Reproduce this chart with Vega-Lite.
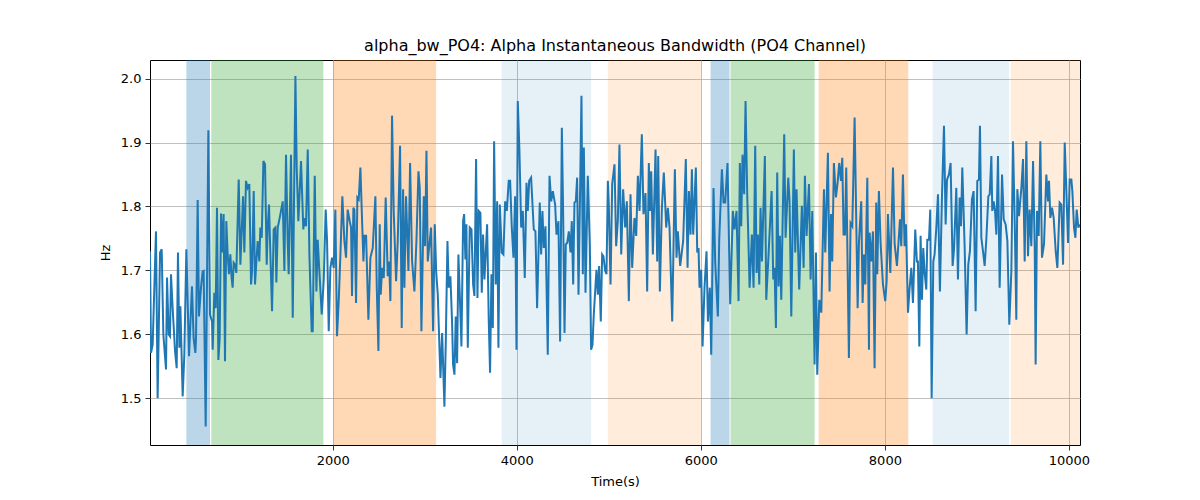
{
  "$schema": "https://vega.github.io/schema/vega-lite/v6.json",
  "autosize": "none",
  "width": 930,
  "height": 385,
  "padding": {"left": 150, "top": 60, "right": 120, "bottom": 55},
  "title": {
    "text": "alpha_bw_PO4: Alpha Instantaneous Bandwidth (PO4 Channel)",
    "font": "DejaVu Sans",
    "fontSize": 16,
    "fontWeight": "normal",
    "color": "black",
    "offset": 6
  },
  "datasets": {
    "bands": [
      {"start": 410, "end": 667, "band": "C0"},
      {"start": 681, "end": 1899, "band": "C2"},
      {"start": 2004, "end": 3124, "band": "C1"},
      {"start": 3837, "end": 4808, "band": "C0 light"},
      {"start": 4990, "end": 6004, "band": "C1 light"},
      {"start": 6106, "end": 6312, "band": "C0"},
      {"start": 6323, "end": 7236, "band": "C2"},
      {"start": 7280, "end": 8254, "band": "C1"},
      {"start": 8519, "end": 9349, "band": "C0 light"},
      {"start": 9367, "end": 10120, "band": "C1 light"}
    ],
    "signal": [
      {"t": 15, "hz": 1.730}, {"t": 26, "hz": 1.571}, {"t": 44, "hz": 1.584}, {"t": 80, "hz": 1.761},
      {"t": 98, "hz": 1.500}, {"t": 124, "hz": 1.728}, {"t": 142, "hz": 1.733}, {"t": 160, "hz": 1.600},
      {"t": 189, "hz": 1.545}, {"t": 200, "hz": 1.689}, {"t": 218, "hz": 1.600}, {"t": 232, "hz": 1.597},
      {"t": 243, "hz": 1.694}, {"t": 261, "hz": 1.641}, {"t": 287, "hz": 1.574}, {"t": 305, "hz": 1.547},
      {"t": 319, "hz": 1.728}, {"t": 334, "hz": 1.579}, {"t": 345, "hz": 1.644}, {"t": 370, "hz": 1.503},
      {"t": 388, "hz": 1.568}, {"t": 410, "hz": 1.733}, {"t": 439, "hz": 1.566}, {"t": 471, "hz": 1.675},
      {"t": 489, "hz": 1.594}, {"t": 508, "hz": 1.571}, {"t": 515, "hz": 1.594}, {"t": 533, "hz": 1.810},
      {"t": 547, "hz": 1.628}, {"t": 569, "hz": 1.673}, {"t": 587, "hz": 1.698}, {"t": 598, "hz": 1.699},
      {"t": 620, "hz": 1.456}, {"t": 649, "hz": 1.919}, {"t": 667, "hz": 1.631}, {"t": 689, "hz": 1.620},
      {"t": 696, "hz": 1.576}, {"t": 714, "hz": 1.665}, {"t": 729, "hz": 1.641}, {"t": 743, "hz": 1.798},
      {"t": 758, "hz": 1.560}, {"t": 772, "hz": 1.594}, {"t": 787, "hz": 1.789}, {"t": 801, "hz": 1.728},
      {"t": 815, "hz": 1.788}, {"t": 830, "hz": 1.558}, {"t": 844, "hz": 1.777}, {"t": 859, "hz": 1.725},
      {"t": 873, "hz": 1.694}, {"t": 888, "hz": 1.725}, {"t": 902, "hz": 1.688}, {"t": 913, "hz": 1.673},
      {"t": 924, "hz": 1.712}, {"t": 939, "hz": 1.709}, {"t": 953, "hz": 1.696}, {"t": 979, "hz": 1.842},
      {"t": 997, "hz": 1.709}, {"t": 1026, "hz": 1.816}, {"t": 1040, "hz": 1.728}, {"t": 1058, "hz": 1.840},
      {"t": 1076, "hz": 1.829}, {"t": 1094, "hz": 1.835}, {"t": 1113, "hz": 1.678}, {"t": 1124, "hz": 1.699},
      {"t": 1142, "hz": 1.824}, {"t": 1156, "hz": 1.678}, {"t": 1171, "hz": 1.714}, {"t": 1185, "hz": 1.746},
      {"t": 1203, "hz": 1.714}, {"t": 1214, "hz": 1.767}, {"t": 1229, "hz": 1.751}, {"t": 1247, "hz": 1.871},
      {"t": 1265, "hz": 1.866}, {"t": 1283, "hz": 1.709}, {"t": 1294, "hz": 1.767}, {"t": 1308, "hz": 1.803},
      {"t": 1323, "hz": 1.725}, {"t": 1341, "hz": 1.636}, {"t": 1359, "hz": 1.764}, {"t": 1377, "hz": 1.767},
      {"t": 1388, "hz": 1.681}, {"t": 1403, "hz": 1.767}, {"t": 1432, "hz": 1.788}, {"t": 1457, "hz": 1.808},
      {"t": 1475, "hz": 1.699}, {"t": 1493, "hz": 1.881}, {"t": 1511, "hz": 1.746}, {"t": 1522, "hz": 1.694},
      {"t": 1547, "hz": 1.881}, {"t": 1566, "hz": 1.626}, {"t": 1595, "hz": 2.004}, {"t": 1609, "hz": 1.861},
      {"t": 1627, "hz": 1.777}, {"t": 1656, "hz": 1.871}, {"t": 1681, "hz": 1.764}, {"t": 1692, "hz": 1.782},
      {"t": 1710, "hz": 1.769}, {"t": 1729, "hz": 1.889}, {"t": 1747, "hz": 1.725}, {"t": 1772, "hz": 1.605},
      {"t": 1783, "hz": 1.605}, {"t": 1805, "hz": 1.848}, {"t": 1823, "hz": 1.667}, {"t": 1837, "hz": 1.748},
      {"t": 1855, "hz": 1.699}, {"t": 1881, "hz": 1.631}, {"t": 1903, "hz": 1.686}, {"t": 1924, "hz": 1.795},
      {"t": 1939, "hz": 1.746}, {"t": 1957, "hz": 1.605}, {"t": 1975, "hz": 1.704}, {"t": 1993, "hz": 1.720},
      {"t": 2011, "hz": 1.704}, {"t": 2029, "hz": 1.795}, {"t": 2047, "hz": 1.597}, {"t": 2066, "hz": 1.654},
      {"t": 2084, "hz": 1.725}, {"t": 2105, "hz": 1.816}, {"t": 2127, "hz": 1.746}, {"t": 2145, "hz": 1.720},
      {"t": 2163, "hz": 1.795}, {"t": 2185, "hz": 1.777}, {"t": 2200, "hz": 1.767}, {"t": 2210, "hz": 1.660},
      {"t": 2225, "hz": 1.798}, {"t": 2236, "hz": 1.795}, {"t": 2254, "hz": 1.649}, {"t": 2268, "hz": 1.814},
      {"t": 2283, "hz": 1.811}, {"t": 2301, "hz": 1.861}, {"t": 2316, "hz": 1.793}, {"t": 2334, "hz": 1.714},
      {"t": 2345, "hz": 1.754}, {"t": 2363, "hz": 1.754}, {"t": 2388, "hz": 1.623}, {"t": 2410, "hz": 1.720},
      {"t": 2435, "hz": 1.735}, {"t": 2464, "hz": 1.816}, {"t": 2479, "hz": 1.673}, {"t": 2497, "hz": 1.574},
      {"t": 2511, "hz": 1.772}, {"t": 2522, "hz": 1.662}, {"t": 2537, "hz": 1.704}, {"t": 2555, "hz": 1.688},
      {"t": 2576, "hz": 1.814}, {"t": 2598, "hz": 1.691}, {"t": 2613, "hz": 1.714}, {"t": 2627, "hz": 1.652},
      {"t": 2645, "hz": 1.942}, {"t": 2663, "hz": 1.793}, {"t": 2689, "hz": 1.683}, {"t": 2707, "hz": 1.746},
      {"t": 2732, "hz": 1.895}, {"t": 2750, "hz": 1.610}, {"t": 2765, "hz": 1.827}, {"t": 2779, "hz": 1.673},
      {"t": 2797, "hz": 1.816}, {"t": 2823, "hz": 1.699}, {"t": 2841, "hz": 1.868}, {"t": 2863, "hz": 1.714},
      {"t": 2888, "hz": 1.667}, {"t": 2910, "hz": 1.746}, {"t": 2932, "hz": 1.855}, {"t": 2946, "hz": 1.829},
      {"t": 2964, "hz": 1.605}, {"t": 2990, "hz": 1.816}, {"t": 3004, "hz": 1.738}, {"t": 3019, "hz": 1.887},
      {"t": 3033, "hz": 1.714}, {"t": 3055, "hz": 1.746}, {"t": 3069, "hz": 1.767}, {"t": 3091, "hz": 1.605},
      {"t": 3109, "hz": 1.772}, {"t": 3124, "hz": 1.699}, {"t": 3142, "hz": 1.662}, {"t": 3160, "hz": 1.579},
      {"t": 3171, "hz": 1.532}, {"t": 3189, "hz": 1.602}, {"t": 3214, "hz": 1.487}, {"t": 3229, "hz": 1.589},
      {"t": 3247, "hz": 1.746}, {"t": 3261, "hz": 1.673}, {"t": 3279, "hz": 1.691}, {"t": 3297, "hz": 1.620},
      {"t": 3308, "hz": 1.553}, {"t": 3323, "hz": 1.537}, {"t": 3337, "hz": 1.628}, {"t": 3352, "hz": 1.555},
      {"t": 3366, "hz": 1.725}, {"t": 3381, "hz": 1.662}, {"t": 3399, "hz": 1.581}, {"t": 3417, "hz": 1.777},
      {"t": 3428, "hz": 1.788}, {"t": 3442, "hz": 1.717}, {"t": 3453, "hz": 1.772}, {"t": 3468, "hz": 1.579},
      {"t": 3489, "hz": 1.767}, {"t": 3508, "hz": 1.764}, {"t": 3526, "hz": 1.678}, {"t": 3540, "hz": 1.660},
      {"t": 3558, "hz": 1.874}, {"t": 3573, "hz": 1.657}, {"t": 3587, "hz": 1.793}, {"t": 3605, "hz": 1.790},
      {"t": 3620, "hz": 1.665}, {"t": 3634, "hz": 1.756}, {"t": 3649, "hz": 1.686}, {"t": 3678, "hz": 1.772},
      {"t": 3696, "hz": 1.620}, {"t": 3710, "hz": 1.540}, {"t": 3725, "hz": 1.694}, {"t": 3740, "hz": 1.610},
      {"t": 3754, "hz": 1.902}, {"t": 3772, "hz": 1.678}, {"t": 3787, "hz": 1.808}, {"t": 3801, "hz": 1.579},
      {"t": 3816, "hz": 1.803}, {"t": 3837, "hz": 1.728}, {"t": 3855, "hz": 1.725}, {"t": 3874, "hz": 1.808},
      {"t": 3892, "hz": 1.793}, {"t": 3913, "hz": 1.840}, {"t": 3928, "hz": 1.840}, {"t": 3946, "hz": 1.767},
      {"t": 3964, "hz": 1.720}, {"t": 3982, "hz": 1.816}, {"t": 3997, "hz": 1.576}, {"t": 4011, "hz": 1.965},
      {"t": 4029, "hz": 1.887}, {"t": 4048, "hz": 1.767}, {"t": 4066, "hz": 1.793}, {"t": 4087, "hz": 1.688},
      {"t": 4106, "hz": 1.837}, {"t": 4120, "hz": 1.793}, {"t": 4135, "hz": 1.840}, {"t": 4156, "hz": 1.845},
      {"t": 4185, "hz": 1.764}, {"t": 4203, "hz": 1.761}, {"t": 4221, "hz": 1.641}, {"t": 4250, "hz": 1.806},
      {"t": 4265, "hz": 1.725}, {"t": 4279, "hz": 1.793}, {"t": 4294, "hz": 1.735}, {"t": 4312, "hz": 1.769},
      {"t": 4337, "hz": 1.568}, {"t": 4356, "hz": 1.848}, {"t": 4374, "hz": 1.808}, {"t": 4392, "hz": 1.824},
      {"t": 4417, "hz": 1.803}, {"t": 4432, "hz": 1.756}, {"t": 4453, "hz": 1.777}, {"t": 4471, "hz": 1.589},
      {"t": 4490, "hz": 1.923}, {"t": 4504, "hz": 1.790}, {"t": 4519, "hz": 1.602}, {"t": 4533, "hz": 1.741},
      {"t": 4548, "hz": 1.743}, {"t": 4566, "hz": 1.761}, {"t": 4584, "hz": 1.728}, {"t": 4598, "hz": 1.777},
      {"t": 4613, "hz": 1.678}, {"t": 4627, "hz": 1.806}, {"t": 4642, "hz": 1.808}, {"t": 4656, "hz": 1.845},
      {"t": 4671, "hz": 1.662}, {"t": 4685, "hz": 1.793}, {"t": 4703, "hz": 1.973}, {"t": 4718, "hz": 1.694},
      {"t": 4729, "hz": 1.892}, {"t": 4747, "hz": 1.665}, {"t": 4772, "hz": 1.848}, {"t": 4794, "hz": 1.741},
      {"t": 4808, "hz": 1.576}, {"t": 4823, "hz": 1.584}, {"t": 4837, "hz": 1.631}, {"t": 4866, "hz": 1.701},
      {"t": 4881, "hz": 1.662}, {"t": 4895, "hz": 1.707}, {"t": 4913, "hz": 1.620}, {"t": 4928, "hz": 1.725},
      {"t": 4942, "hz": 1.722}, {"t": 4961, "hz": 1.699}, {"t": 4975, "hz": 1.694}, {"t": 4990, "hz": 1.840},
      {"t": 5000, "hz": 1.803}, {"t": 5019, "hz": 1.678}, {"t": 5037, "hz": 1.835}, {"t": 5062, "hz": 1.866},
      {"t": 5080, "hz": 1.738}, {"t": 5098, "hz": 1.777}, {"t": 5116, "hz": 1.897}, {"t": 5135, "hz": 1.725},
      {"t": 5156, "hz": 1.827}, {"t": 5178, "hz": 1.767}, {"t": 5196, "hz": 1.808}, {"t": 5218, "hz": 1.652},
      {"t": 5236, "hz": 1.819}, {"t": 5254, "hz": 1.704}, {"t": 5279, "hz": 1.782}, {"t": 5298, "hz": 1.754},
      {"t": 5316, "hz": 1.848}, {"t": 5334, "hz": 1.793}, {"t": 5359, "hz": 1.913}, {"t": 5377, "hz": 1.788},
      {"t": 5399, "hz": 1.821}, {"t": 5417, "hz": 1.667}, {"t": 5435, "hz": 1.868}, {"t": 5450, "hz": 1.793},
      {"t": 5461, "hz": 1.855}, {"t": 5479, "hz": 1.725}, {"t": 5508, "hz": 1.889}, {"t": 5526, "hz": 1.714},
      {"t": 5537, "hz": 1.879}, {"t": 5555, "hz": 1.667}, {"t": 5577, "hz": 1.798}, {"t": 5598, "hz": 1.853},
      {"t": 5624, "hz": 1.767}, {"t": 5642, "hz": 1.798}, {"t": 5660, "hz": 1.767}, {"t": 5689, "hz": 1.620},
      {"t": 5718, "hz": 1.858}, {"t": 5736, "hz": 1.720}, {"t": 5750, "hz": 1.761}, {"t": 5776, "hz": 1.707},
      {"t": 5808, "hz": 1.746}, {"t": 5837, "hz": 1.874}, {"t": 5856, "hz": 1.704}, {"t": 5870, "hz": 1.824},
      {"t": 5888, "hz": 1.756}, {"t": 5903, "hz": 1.858}, {"t": 5917, "hz": 1.756}, {"t": 5946, "hz": 1.861},
      {"t": 5961, "hz": 1.728}, {"t": 5975, "hz": 1.735}, {"t": 5986, "hz": 1.673}, {"t": 6004, "hz": 1.701},
      {"t": 6019, "hz": 1.581}, {"t": 6040, "hz": 1.673}, {"t": 6062, "hz": 1.730}, {"t": 6077, "hz": 1.620},
      {"t": 6098, "hz": 1.673}, {"t": 6113, "hz": 1.568}, {"t": 6138, "hz": 1.829}, {"t": 6156, "hz": 1.714},
      {"t": 6185, "hz": 1.628}, {"t": 6200, "hz": 1.748}, {"t": 6229, "hz": 1.858}, {"t": 6247, "hz": 1.806},
      {"t": 6265, "hz": 1.806}, {"t": 6290, "hz": 1.868}, {"t": 6319, "hz": 1.647}, {"t": 6348, "hz": 1.793},
      {"t": 6366, "hz": 1.764}, {"t": 6388, "hz": 1.793}, {"t": 6410, "hz": 1.652}, {"t": 6424, "hz": 1.868},
      {"t": 6439, "hz": 1.769}, {"t": 6453, "hz": 1.881}, {"t": 6471, "hz": 1.819}, {"t": 6486, "hz": 1.965},
      {"t": 6504, "hz": 1.819}, {"t": 6530, "hz": 1.673}, {"t": 6555, "hz": 1.756}, {"t": 6573, "hz": 1.673},
      {"t": 6591, "hz": 1.895}, {"t": 6606, "hz": 1.696}, {"t": 6620, "hz": 1.756}, {"t": 6635, "hz": 1.678},
      {"t": 6649, "hz": 1.798}, {"t": 6664, "hz": 1.714}, {"t": 6696, "hz": 1.879}, {"t": 6711, "hz": 1.654},
      {"t": 6736, "hz": 1.725}, {"t": 6769, "hz": 1.824}, {"t": 6787, "hz": 1.686}, {"t": 6801, "hz": 1.704},
      {"t": 6816, "hz": 1.610}, {"t": 6830, "hz": 1.853}, {"t": 6845, "hz": 1.675}, {"t": 6859, "hz": 1.754},
      {"t": 6874, "hz": 1.654}, {"t": 6906, "hz": 1.913}, {"t": 6921, "hz": 1.751}, {"t": 6950, "hz": 1.845},
      {"t": 6964, "hz": 1.808}, {"t": 6983, "hz": 1.628}, {"t": 7011, "hz": 1.889}, {"t": 7026, "hz": 1.728},
      {"t": 7040, "hz": 1.827}, {"t": 7069, "hz": 1.670}, {"t": 7098, "hz": 1.801}, {"t": 7117, "hz": 1.704},
      {"t": 7131, "hz": 1.848}, {"t": 7149, "hz": 1.754}, {"t": 7175, "hz": 1.835}, {"t": 7193, "hz": 1.686},
      {"t": 7211, "hz": 1.793}, {"t": 7236, "hz": 1.553}, {"t": 7251, "hz": 1.728}, {"t": 7265, "hz": 1.537},
      {"t": 7287, "hz": 1.654}, {"t": 7309, "hz": 1.634}, {"t": 7338, "hz": 1.827}, {"t": 7352, "hz": 1.728},
      {"t": 7381, "hz": 1.884}, {"t": 7399, "hz": 1.667}, {"t": 7414, "hz": 1.788}, {"t": 7428, "hz": 1.714},
      {"t": 7446, "hz": 1.868}, {"t": 7468, "hz": 1.814}, {"t": 7486, "hz": 1.837}, {"t": 7504, "hz": 1.868},
      {"t": 7522, "hz": 1.840}, {"t": 7537, "hz": 1.876}, {"t": 7551, "hz": 1.756}, {"t": 7566, "hz": 1.756},
      {"t": 7580, "hz": 1.861}, {"t": 7609, "hz": 1.563}, {"t": 7627, "hz": 1.774}, {"t": 7646, "hz": 1.769},
      {"t": 7671, "hz": 1.939}, {"t": 7704, "hz": 1.641}, {"t": 7718, "hz": 1.743}, {"t": 7743, "hz": 1.808},
      {"t": 7758, "hz": 1.649}, {"t": 7772, "hz": 1.725}, {"t": 7787, "hz": 1.678}, {"t": 7809, "hz": 1.845},
      {"t": 7827, "hz": 1.576}, {"t": 7834, "hz": 1.759}, {"t": 7852, "hz": 1.714}, {"t": 7870, "hz": 1.761},
      {"t": 7888, "hz": 1.547}, {"t": 7906, "hz": 1.806}, {"t": 7917, "hz": 1.694}, {"t": 7935, "hz": 1.824},
      {"t": 7954, "hz": 1.741}, {"t": 7979, "hz": 1.678}, {"t": 8004, "hz": 1.652}, {"t": 8019, "hz": 1.683},
      {"t": 8033, "hz": 1.788}, {"t": 8059, "hz": 1.696}, {"t": 8088, "hz": 1.861}, {"t": 8106, "hz": 1.741},
      {"t": 8131, "hz": 1.707}, {"t": 8149, "hz": 1.746}, {"t": 8164, "hz": 1.780}, {"t": 8178, "hz": 1.738},
      {"t": 8196, "hz": 1.850}, {"t": 8214, "hz": 1.738}, {"t": 8229, "hz": 1.772}, {"t": 8251, "hz": 1.634},
      {"t": 8269, "hz": 1.673}, {"t": 8287, "hz": 1.704}, {"t": 8305, "hz": 1.649}, {"t": 8330, "hz": 1.764},
      {"t": 8348, "hz": 1.714}, {"t": 8359, "hz": 1.714}, {"t": 8374, "hz": 1.581}, {"t": 8388, "hz": 1.754},
      {"t": 8403, "hz": 1.654}, {"t": 8417, "hz": 1.735}, {"t": 8432, "hz": 1.696}, {"t": 8450, "hz": 1.670},
      {"t": 8461, "hz": 1.748}, {"t": 8479, "hz": 1.748}, {"t": 8493, "hz": 1.795}, {"t": 8508, "hz": 1.500},
      {"t": 8526, "hz": 1.714}, {"t": 8540, "hz": 1.725}, {"t": 8559, "hz": 1.767}, {"t": 8577, "hz": 1.819},
      {"t": 8598, "hz": 1.667}, {"t": 8620, "hz": 1.814}, {"t": 8642, "hz": 1.926}, {"t": 8660, "hz": 1.772},
      {"t": 8675, "hz": 1.842}, {"t": 8696, "hz": 1.850}, {"t": 8714, "hz": 1.868}, {"t": 8736, "hz": 1.707},
      {"t": 8751, "hz": 1.733}, {"t": 8776, "hz": 1.829}, {"t": 8794, "hz": 1.686}, {"t": 8812, "hz": 1.814},
      {"t": 8827, "hz": 1.769}, {"t": 8841, "hz": 1.861}, {"t": 8867, "hz": 1.735}, {"t": 8888, "hz": 1.600},
      {"t": 8906, "hz": 1.709}, {"t": 8924, "hz": 1.730}, {"t": 8946, "hz": 1.811}, {"t": 8964, "hz": 1.824},
      {"t": 8986, "hz": 1.636}, {"t": 9004, "hz": 1.840}, {"t": 9022, "hz": 1.842}, {"t": 9033, "hz": 1.926},
      {"t": 9048, "hz": 1.751}, {"t": 9070, "hz": 1.725}, {"t": 9084, "hz": 1.707}, {"t": 9102, "hz": 1.748},
      {"t": 9124, "hz": 1.816}, {"t": 9139, "hz": 1.819}, {"t": 9157, "hz": 1.879}, {"t": 9167, "hz": 1.793},
      {"t": 9182, "hz": 1.808}, {"t": 9197, "hz": 1.793}, {"t": 9211, "hz": 1.756}, {"t": 9229, "hz": 1.879},
      {"t": 9247, "hz": 1.673}, {"t": 9273, "hz": 1.850}, {"t": 9291, "hz": 1.780}, {"t": 9312, "hz": 1.772},
      {"t": 9331, "hz": 1.746}, {"t": 9352, "hz": 1.615}, {"t": 9374, "hz": 1.699}, {"t": 9392, "hz": 1.902},
      {"t": 9414, "hz": 1.751}, {"t": 9428, "hz": 1.623}, {"t": 9439, "hz": 1.827}, {"t": 9457, "hz": 1.785},
      {"t": 9483, "hz": 1.829}, {"t": 9501, "hz": 1.874}, {"t": 9519, "hz": 1.714}, {"t": 9537, "hz": 1.902},
      {"t": 9555, "hz": 1.722}, {"t": 9573, "hz": 1.795}, {"t": 9591, "hz": 1.738}, {"t": 9610, "hz": 1.871},
      {"t": 9628, "hz": 1.735}, {"t": 9638, "hz": 1.553}, {"t": 9653, "hz": 1.793}, {"t": 9671, "hz": 1.754},
      {"t": 9689, "hz": 1.902}, {"t": 9707, "hz": 1.720}, {"t": 9729, "hz": 1.741}, {"t": 9754, "hz": 1.850},
      {"t": 9773, "hz": 1.808}, {"t": 9783, "hz": 1.840}, {"t": 9798, "hz": 1.782}, {"t": 9816, "hz": 1.798},
      {"t": 9834, "hz": 1.782}, {"t": 9856, "hz": 1.730}, {"t": 9874, "hz": 1.704}, {"t": 9899, "hz": 1.806},
      {"t": 9917, "hz": 1.803}, {"t": 9936, "hz": 1.709}, {"t": 9954, "hz": 1.900}, {"t": 9972, "hz": 1.824},
      {"t": 9990, "hz": 1.743}, {"t": 10008, "hz": 1.842}, {"t": 10026, "hz": 1.842}, {"t": 10037, "hz": 1.824},
      {"t": 10055, "hz": 1.767}, {"t": 10070, "hz": 1.751}, {"t": 10084, "hz": 1.795}, {"t": 10102, "hz": 1.767},
      {"t": 10117, "hz": 1.772}
    ]
  },
  "layer": [
    {
      "data": {"name": "bands"},
      "mark": {"type": "rect", "clip": true, "opacity": 1},
      "encoding": {
        "x": {"field": "start", "type": "quantitative"},
        "x2": {"field": "end"},
        "color": {
          "field": "band",
          "type": "nominal",
          "legend": null,
          "scale": {
            "domain": ["C0", "C1", "C2", "C0 light", "C1 light"],
            "range": [
              "rgba(31,119,180,0.3)",
              "rgba(255,127,14,0.3)",
              "rgba(44,160,44,0.3)",
              "rgba(31,119,180,0.11)",
              "rgba(255,127,14,0.15)"
            ]
          }
        }
      }
    },
    {
      "data": {"name": "signal"},
      "mark": {"type": "line", "color": "#1f77b4", "strokeWidth": 2, "clip": true},
      "encoding": {
        "x": {
          "field": "t",
          "type": "quantitative",
          "title": "Time(s)",
          "scale": {"domain": [15, 10120], "nice": false, "zero": false},
          "axis": {"values": [2000, 4000, 6000, 8000, 10000], "format": "d"}
        },
        "y": {
          "field": "hz",
          "type": "quantitative",
          "title": "Hz",
          "scale": {"domain": [1.427, 2.029], "nice": false, "zero": false},
          "axis": {"values": [1.5, 1.6, 1.7, 1.8, 1.9, 2.0], "format": ".1f"}
        }
      }
    }
  ],
  "config": {
    "view": {"stroke": "black", "strokeWidth": 1},
    "font": "DejaVu Sans",
    "axis": {
      "domain": false,
      "grid": true,
      "gridColor": "#b0b0b0",
      "gridWidth": 0.8,
      "tickColor": "black",
      "tickSize": 5,
      "tickWidth": 0.8,
      "labelFont": "DejaVu Sans",
      "labelFontSize": 13,
      "labelColor": "black",
      "labelPadding": 4,
      "titleFont": "DejaVu Sans",
      "titleFontSize": 13,
      "titleFontWeight": "normal",
      "titleColor": "black",
      "titlePadding": 8
    }
  }
}
